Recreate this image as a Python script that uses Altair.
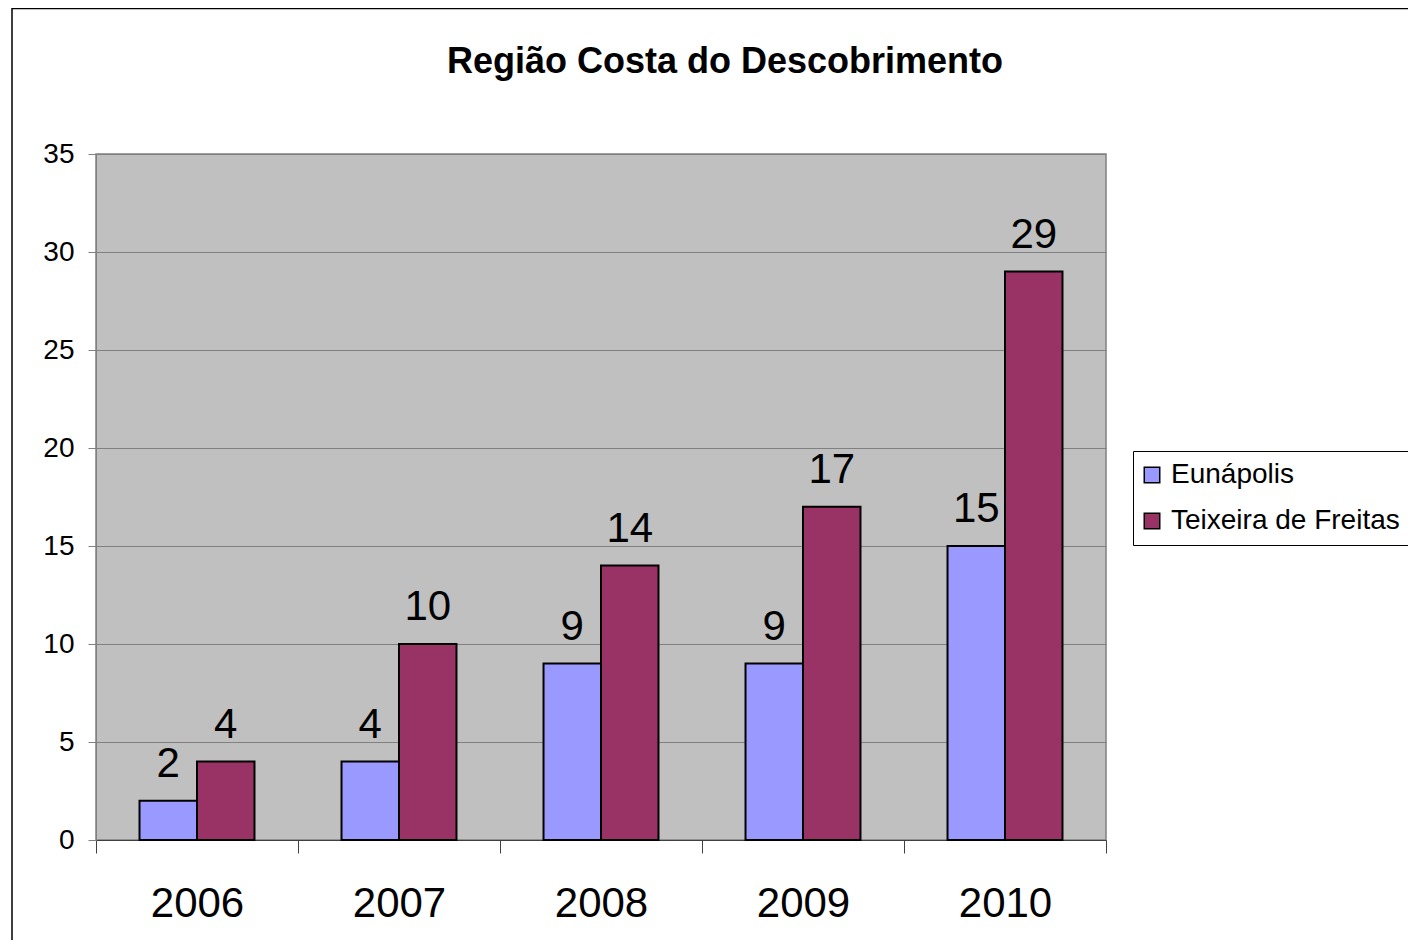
import altair as alt
import pandas as pd

years = ["2006", "2007", "2008", "2009", "2010"]
eunapolis = [2, 4, 9, 9, 15]
teixeira = [4, 10, 14, 17, 29]
series = ["Eunápolis", "Teixeira de Freitas"]
colors = ["#9999FF", "#993366"]
title_text = "Região Costa do Descobrimento"

rows = []
for i, y in enumerate(years):
    rows.append({"ano": y, "serie": series[0], "valor": eunapolis[i]})
    rows.append({"ano": y, "serie": series[1], "valor": teixeira[i]})
df = pd.DataFrame(rows)

FONT = "Liberation Sans"

x_enc = alt.X("ano:N", sort=years, title=None,
              scale=alt.Scale(paddingInner=0, paddingOuter=0),
              axis=alt.Axis(labelAngle=0, labelFontSize=42, labelFont=FONT, labelColor="black",
                            labelBaseline="alphabetic", labelPadding=63,
                            tickBand="extent", tickSize=13, tickColor="#404040",
                            domainColor="#404040", grid=False))
xoff_enc = alt.XOffset("serie:N", sort=series,
                       scale=alt.Scale(paddingOuter=0.757, paddingInner=0))
y_enc = alt.Y("valor:Q", title=None,
              scale=alt.Scale(domain=[0, 35], nice=False),
              axis=alt.Axis(values=[0, 5, 10, 15, 20, 25, 30, 35], labelFontSize=28, labelFont=FONT,
                            labelColor="black", labelPadding=14, tickSize=8, tickColor="#808080",
                            domainColor="#808080", gridColor="#808080", gridOpacity=1))

frame = alt.Chart(pd.DataFrame({"a": [0]})).mark_rect(
    fill="white", fillOpacity=0, stroke="black", strokeWidth=1.5
).encode(x=alt.value(-84), x2=alt.value(2000), y=alt.value(-145.5), y2=alt.value(2000))

title = alt.Chart(pd.DataFrame({"t": [title_text]})).mark_text(
    fontSize=36, font=FONT, fontWeight="bold", color="black", align="center", baseline="alphabetic"
).encode(x=alt.value(629), y=alt.value(-81), text="t:N")

bars = alt.Chart(df).mark_bar(stroke="black", strokeWidth=2).encode(
    x=x_enc, xOffset=xoff_enc, y=y_enc,
    color=alt.Color("serie:N", sort=series,
                    scale=alt.Scale(domain=series, range=colors),
                    legend=alt.Legend(title=None, orient="none", legendX=1037, legendY=297,
                                      labelFontSize=28, labelFont=FONT, labelColor="black",
                                      symbolType="square", symbolSize=240, symbolOffset=-5,
                                      symbolStrokeColor="black", symbolStrokeWidth=1.5,
                                      labelOffset=5, rowPadding=18, padding=10,
                                      strokeColor="black", fillColor="white",
                                      labelLimit=400)),
)

labels = alt.Chart(df).mark_text(fontSize=42, font=FONT, color="black",
                                 baseline="alphabetic", dy=-24).encode(
    x=alt.X("ano:N", sort=years), xOffset=alt.XOffset("serie:N", sort=series), y="valor:Q",
    text="valor:Q",
)

chart = alt.layer(frame, title, bars, labels).properties(
    width=1010, height=686,
    autosize=alt.AutoSizeParams(type="none"),
    padding={"left": 88, "top": 146, "right": 302, "bottom": 100},
).configure(background="white").configure_view(
    fill="#C0C0C0", stroke="#808080", strokeWidth=1.5
)

chart.save("out.html", embed_options={"renderer": "svg", "actions": False})
